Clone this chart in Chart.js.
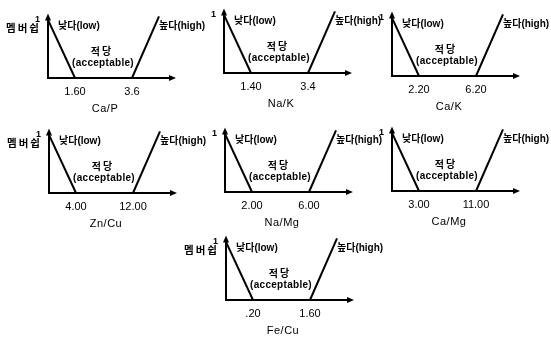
<!DOCTYPE html>
<html>
<head>
<meta charset="utf-8">
<script src="https://cdn.jsdelivr.net/npm/chart.js@4.4.1/dist/chart.umd.min.js"></script>
<style>
  html, body { margin: 0; padding: 0; background: #fff; overflow: hidden; }
  #wrap { position: relative; width: 551px; height: 340px; }
  #wrap canvas { position: absolute; }
</style>
</head>
<body>
<div id="wrap"></div>
<script>
/* Razões minerais e seus limites (baixo / alto) */
const ratioNames = ["Ca/P", "Na/K", "Ca/K", "Zn/Cu", "Na/Mg", "Ca/Mg", "Fe/Cu"];
const lowLimits = [1.60, 1.40, 2.20, 4.00, 2.00, 3.00, 0.20];
const highLimits = [3.6, 3.4, 6.20, 12.00, 6.00, 11.00, 1.60];
const lowTickLabels = ["1.60", "1.40", "2.20", "4.00", "2.00", "3.00", ".20"];
const highTickLabels = ["3.6", "3.4", "6.20", "12.00", "6.00", "11.00", "1.60"];

/* Graus de pertinência nas pontas das retas */
const lowMembership = [1, 0];
const highMembership = [0, 1.06];
const yTickValues = [1];
const yTickLabels = ["1"];

/* Textos das regiões */
const lowText = "낮다(low)";
const highText = "높다(high)";
const okText = "적당";
const okSubText = "(acceptable)";
const membershipText = "멤버쉽";

/* Posição da origem de cada gráfico na página */
const panelOrigins = [[48, 78], [224, 73], [392, 76], [49, 193], [225, 192], [392, 191], [226, 300]];
const showMembership = [true, false, false, true, false, false, true];

// geometria esquemática do eixo x (pixels a partir do eixo y)
const AXIS_LEN = 128, LO_PX = 27, HI_PX = 84, TOP_PX = 111;
const CANVAS_W = 214, CANVAS_H = 118, LEFT_W = 48, TOP_PAD = 7;

const FONT = '"Liberation Sans", Arial, "Noto Sans CJK KR", sans-serif';

/* Calcula o intervalo do eixo x para que os limites caiam nas posições do esquema */
function axisRange(lo, hi) {
    const span = (hi - lo) * AXIS_LEN / (HI_PX - LO_PX);
    const min = lo - span * LO_PX / AXIS_LEN;
    return { min: min, max: min + span, span: span };
}

/* Desenha uma seta preenchida na ponta (x, y) apontando para (dx, dy) */
function arrowHead(ctx, x, y, dx, dy) {
    const len = 7, half = 3;
    ctx.beginPath();
    ctx.moveTo(x, y);
    ctx.lineTo(x - dx * len - dy * half, y - dy * len + dx * half);
    ctx.lineTo(x - dx * len + dy * half, y - dy * len - dx * half);
    ctx.closePath();
    ctx.fill();
}

/* Plugin: eixos com setas, textos das regiões e nome da razão */
const membershipDecor = {
    id: "membershipDecor",
    afterDatasetsDraw(chart, args, opts) {
        const ctx = chart.ctx;
        const a = chart.chartArea;
        ctx.save();
        ctx.strokeStyle = "#000";
        ctx.fillStyle = "#000";
        ctx.lineWidth = 2;
        // eixo x
        ctx.beginPath();
        ctx.moveTo(a.left - 1, a.bottom);
        ctx.lineTo(a.right - 4, a.bottom);
        ctx.stroke();
        arrowHead(ctx, a.right, a.bottom, 1, 0);
        // eixo y
        ctx.beginPath();
        ctx.moveTo(a.left, a.bottom + 1);
        ctx.lineTo(a.left, a.top + 4);
        ctx.stroke();
        arrowHead(ctx, a.left, a.top, 0, -1);

        ctx.fillStyle = "#000";
        ctx.textBaseline = "middle";
        ctx.font = "bold 10px " + FONT;
        ctx.letterSpacing = "0px";
        ctx.textAlign = "left";
        ctx.fillText(lowText, a.left + 10, a.bottom - 52);
        ctx.fillText(highText, a.left + 111, a.bottom - 52);
        ctx.textAlign = "center";
        ctx.letterSpacing = "2px";
        ctx.fillText(okText, a.left + 54, a.bottom - 26);
        ctx.letterSpacing = "0.3px";
        ctx.fillText(okSubText, a.left + 55, a.bottom - 15);
        if (opts.showMembership) {
            ctx.font = "bold 10.5px " + FONT;
            ctx.letterSpacing = "2px";
            ctx.textAlign = "right";
            ctx.fillText(membershipText, a.left - 7, a.bottom - 49);
        }
        ctx.letterSpacing = "0.5px";
        ctx.font = "11px " + FONT;
        ctx.textAlign = "center";
        ctx.fillText(opts.name, a.left + 57, a.bottom + 31);
        ctx.restore();
    }
};

/* Cria um gráfico de pertinência para a razão de índice i */
function createPanel(i) {
    const canvas = document.createElement("canvas");
    canvas.width = CANVAS_W;
    canvas.height = CANVAS_H;
    canvas.style.left = (panelOrigins[i][0] - LEFT_W) + "px";
    canvas.style.top = (panelOrigins[i][1] - (CANVAS_H - 40)) + "px";
    document.getElementById("wrap").appendChild(canvas);

    const lo = lowLimits[i], hi = highLimits[i];
    const r = axisRange(lo, hi);
    const highTopX = hi + r.span * (TOP_PX - HI_PX) / AXIS_LEN;

    const lineStyle = {
        borderColor: "#000",
        borderWidth: 2,
        pointRadius: 0,
        fill: false,
        tension: 0,
        clip: false
    };

    return new Chart(canvas.getContext("2d"), {
        type: "line",
        data: {
            datasets: [
                Object.assign({ data: [{ x: r.min, y: lowMembership[0] }, { x: lo, y: lowMembership[1] }] }, lineStyle),
                Object.assign({ data: [{ x: hi, y: highMembership[0] }, { x: highTopX, y: highMembership[1] }] }, lineStyle)
            ]
        },
        options: {
            responsive: false,
            animation: false,
            events: [],
            layout: { padding: { top: TOP_PAD, right: CANVAS_W - LEFT_W - AXIS_LEN, left: 0, bottom: 0 } },
            plugins: {
                legend: { display: false },
                tooltip: { enabled: false },
                membershipDecor: { name: ratioNames[i], showMembership: showMembership[i] }
            },
            scales: {
                x: {
                    type: "linear",
                    min: r.min,
                    max: r.max,
                    grid: { display: false, drawTicks: false },
                    border: { display: false },
                    afterBuildTicks: (scale) => {
                        scale.ticks = [{ value: lo }, { value: hi }];
                    },
                    afterFit: (scale) => { scale.height = 40; },
                    ticks: {
                        autoSkip: false,
                        maxRotation: 0,
                        padding: 7,
                        color: "#000",
                        font: { family: FONT, size: 11 },
                        callback: (v, idx) => idx === 0 ? lowTickLabels[i] : highTickLabels[i]
                    }
                },
                y: {
                    type: "linear",
                    min: 0,
                    max: 1.11,
                    grid: { display: false, drawTicks: false },
                    border: { display: false },
                    afterBuildTicks: (scale) => {
                        scale.ticks = yTickValues.map((v) => ({ value: v }));
                    },
                    afterFit: (scale) => { scale.width = LEFT_W; },
                    ticks: {
                        padding: 8,
                        color: "#000",
                        font: { family: FONT, size: 9, weight: "bold" },
                        callback: (v, idx) => yTickLabels[idx]
                    }
                }
            }
        },
        plugins: [membershipDecor]
    });
}

/* Desenha os sete gráficos */
const charts = ratioNames.map((name, i) => createPanel(i));
</script>
</body>
</html>
